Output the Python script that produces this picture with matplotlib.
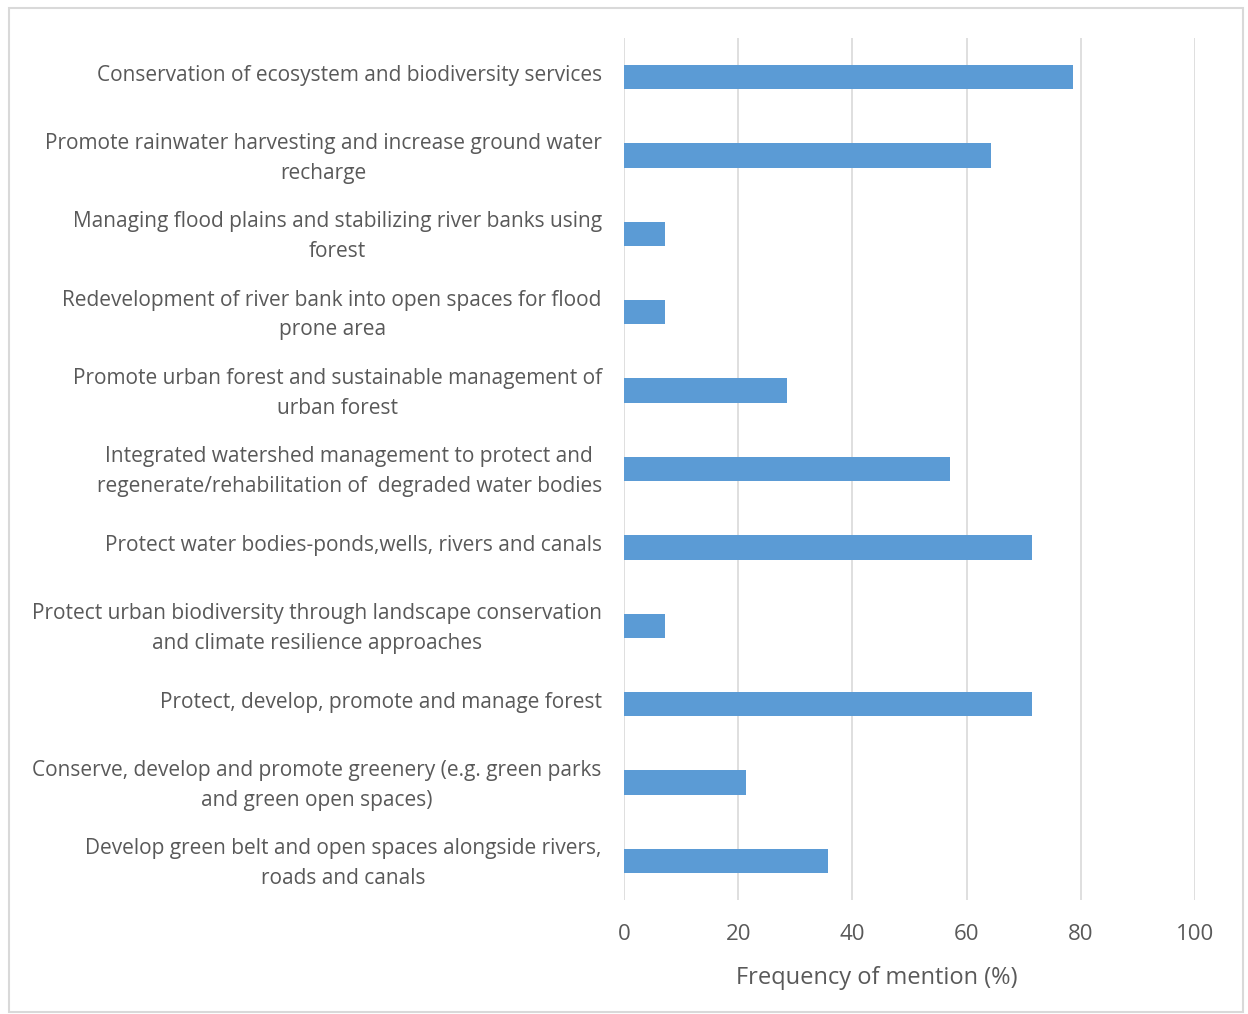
import matplotlib
matplotlib.use("Agg")
from matplotlib import pyplot as plt
from matplotlib.patches import Rectangle
from matplotlib.transforms import ScaledTranslation

labels = [
    "Conservation of ecosystem and biodiversity services",
    "Promote rainwater harvesting and increase ground water\nrecharge",
    "Managing flood plains and stabilizing river banks using\nforest",
    "Redevelopment of river bank into open spaces for flood\nprone area",
    "Promote urban forest and sustainable management of\nurban forest",
    "Integrated watershed management to protect and\nregenerate/rehabilitation of  degraded water bodies",
    "Protect water bodies-ponds,wells, rivers and canals",
    "Protect urban biodiversity through landscape conservation\nand climate resilience approaches",
    "Protect, develop, promote and manage forest",
    "Conserve, develop and promote greenery (e.g. green parks\nand green open spaces)",
    "Develop green belt and open spaces alongside rivers,\nroads and canals",
]
values = [78.6, 64.3, 7.1, 7.1, 28.6, 57.1, 71.4, 7.1, 71.4, 21.4, 35.7]
xticks = [0, 20, 40, 60, 80, 100]

plt.rcParams['font.family'] = ['Open Sans', 'DejaVu Sans']
textcol = "#595959"

fig = plt.figure(figsize=(12.48, 10.14), dpi=100)
fig.patches.append(Rectangle((9/1248, 2/1014), 1234/1248, 1004/1014, transform=fig.transFigure,
                             fill=False, edgecolor="#d9d9d9", linewidth=1.5))
ax = fig.add_axes([624/1248, 1 - 900/1014, (1195 - 624)/1248, (900 - 38)/1014])

pos = list(range(len(labels)))
ax.barh(pos, values, height=0.31, color="#5b9bd5", zorder=3)
ax.set_ylim(len(labels) - 0.5, -0.5)
ax.set_xlim(0, 100)
ax.set_xticks(xticks)
ax.set_yticks(pos)
ax.set_yticklabels(labels, fontsize=15, color=textcol, multialignment="center", linespacing=1.55)
ax.tick_params(axis="y", length=0, pad=16)
ax.tick_params(axis="x", length=0, pad=17, labelsize=16, labelcolor=textcol)
shift = ScaledTranslation(0, 3/72, fig.dpi_scale_trans)
for lab in ax.get_yticklabels():
    lab.set_transform(lab.get_transform() + shift)
ax.grid(axis="x", color="#d9d9d9", linewidth=1.2, zorder=0)
for s in ax.spines.values():
    s.set_visible(False)
ax.set_xlabel("Frequency of mention (%)", fontsize=17, color=textcol)
ax.xaxis.set_label_coords((877 - 624)/(1195 - 624), -(966 - 900)/(900 - 38))

fig.savefig("out.png", dpi=100)
plt.close()
